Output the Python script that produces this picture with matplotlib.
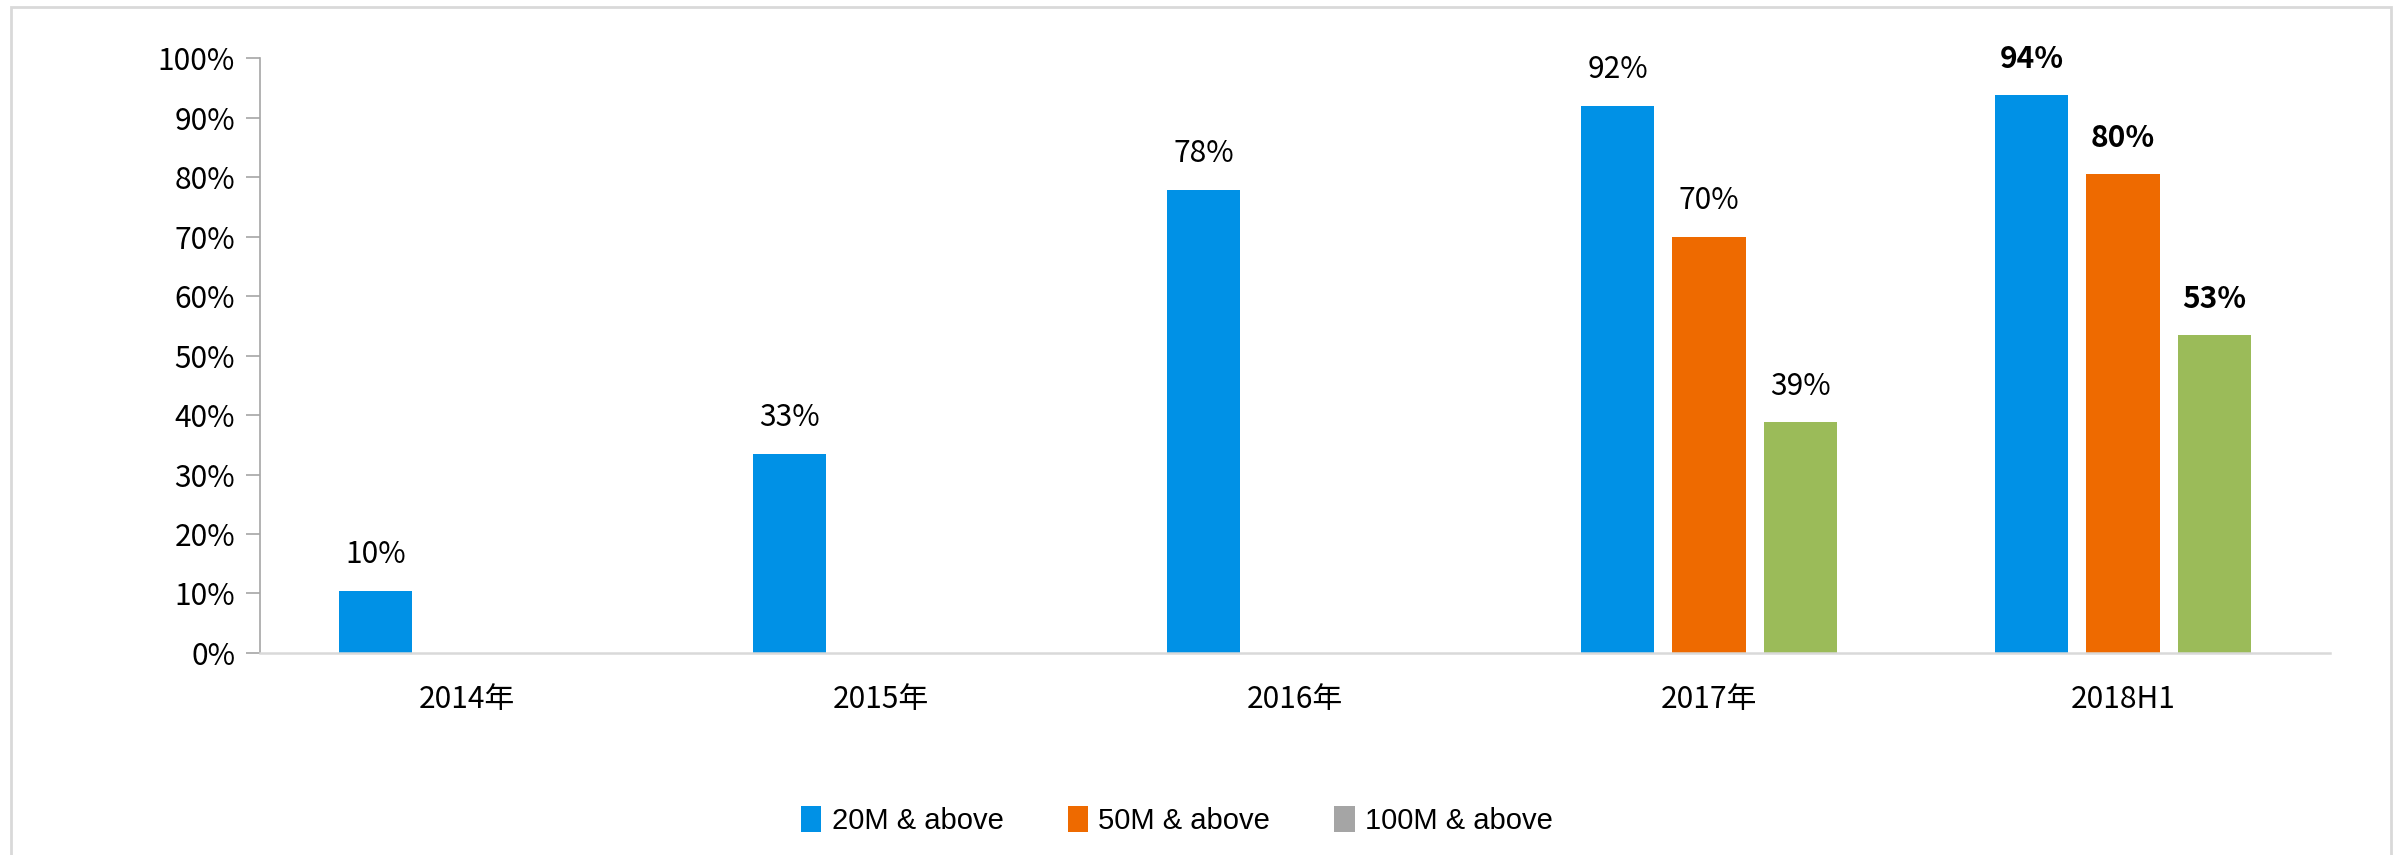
import matplotlib
matplotlib.use("Agg")
import matplotlib.pyplot as plt
from matplotlib.patches import Patch, Rectangle
import numpy as np

plt.rcParams['font.family'] = ['Noto Sans CJK SC', 'DejaVu Sans']

categories = ["2014年", "2015年", "2016年", "2017年", "2018H1"]
seriesNames = ["20M & above", "50M & above", "100M & above"]
above20 = [0.105, 0.335, 0.779, 0.920, 0.938]
above50 = [None, None, None, 0.700, 0.805]
above100 = [None, None, None, 0.388, 0.535]
labels20 = ["10%", "33%", "78%", "92%", "94%"]
labels50 = [None, None, None, "70%", "80%"]
labels100 = [None, None, None, "39%", "53%"]
barColors = ["#0091E6", "#EE6A00", "#9BBB59"]
legendColors = ["#0091E6", "#EE6A00", "#A5A5A5"]

fig = plt.figure(figsize=(23.97, 8.55), dpi=100)
ax = fig.add_axes([0.1085, 0.2363, 0.8635, 0.6957])

x = np.arange(len(categories))
width = 0.177
offset = 0.221
allSeries = [above20, above50, above100]
allLabels = [labels20, labels50, labels100]

for s, (vals, labs) in enumerate(zip(allSeries, allLabels)):
    for i, v in enumerate(vals):
        if v is None:
            continue
        xpos = x[i] + (s - 1) * offset
        ax.bar(xpos, v, width=width, color=barColors[s])
        bold = categories[i] == "2018H1"
        ax.annotate(labs[i], (xpos, v), xytext=(0, 26), textcoords="offset points",
                    ha="center", va="center", fontsize=21.5,
                    fontweight="bold" if bold else "normal")

ax.set_xlim(-0.5, 4.5)
ax.set_ylim(0, 1)
ax.set_yticks(np.arange(0, 1.01, 0.1))
ax.set_yticklabels([f"{int(round(t * 100))}%" for t in np.arange(0, 1.01, 0.1)], fontsize=21.5)
ax.set_xticks(x)
ax.set_xticklabels(categories, fontsize=21.5)
ax.tick_params(axis="x", length=0, pad=22)
ax.tick_params(axis="y", length=10, width=1.2, color="#A6A6A6", direction="out", pad=8)
for side in ["top", "right"]:
    ax.spines[side].set_visible(False)
ax.spines["left"].set_color("#A6A6A6")
ax.spines["left"].set_linewidth(1.2)
ax.spines["bottom"].set_color("#D9D9D9")
ax.spines["bottom"].set_linewidth(1.8)

handles = [Patch(facecolor=c, edgecolor="none") for c in legendColors]
fig.legend(handles, seriesNames, loc="center", bbox_to_anchor=(0.491, 0.04), ncol=3,
           frameon=False, prop={"family": "Liberation Sans", "size": 21},
           handlelength=0.7, handleheight=1.0, handletextpad=0.35, columnspacing=2.2)

fig.patches.append(Rectangle((11 / 2397, -0.1), (2391 - 11) / 2397, 1.1 - 7 / 855,
                             transform=fig.transFigure, fill=False,
                             edgecolor="#D9D9D9", linewidth=2))

fig.savefig("out.png", dpi=100)
